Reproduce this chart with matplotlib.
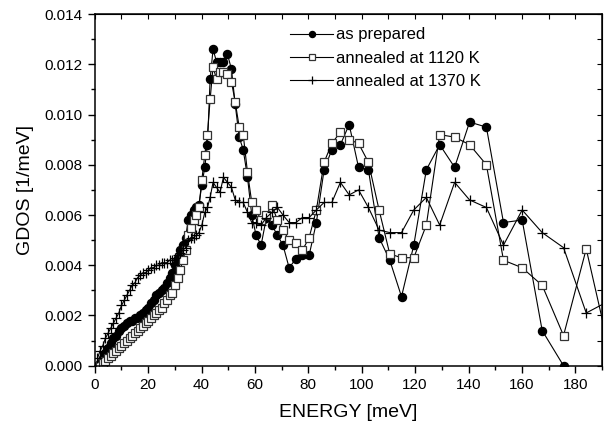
import numpy as np
import matplotlib
matplotlib.use("Agg")
import matplotlib.pyplot as plt
from matplotlib.ticker import MultipleLocator

# energy grid [meV], shared by the three spectra
energy = [1, 2, 3, 4, 5, 6, 7, 8, 9, 10, 11, 12, 13, 14, 15, 16, 17, 18, 19, 20,
          21, 22, 23, 24, 25, 26, 27, 28, 29, 30, 31, 32, 33, 34, 35, 36, 37, 38, 39,
          40.1, 41.2, 42.2, 43.2, 44.3, 45.6, 46.9, 48.2, 49.7, 51.2, 52.6, 54.1,
          55.6, 57.2, 58.8, 60.4, 62.3, 64.3, 66.3, 68.4, 70.5, 72.8, 75.3, 77.8,
          80.3, 83.0, 85.9, 88.8, 92.0, 95.3, 98.8, 102.5, 106.5, 110.5, 114.9,
          119.5, 124.2, 129.2, 134.8, 140.4, 146.7, 153.1, 160.1, 167.6, 175.6,
          184.1, 193.0]

gdos_prepared = [0.0000, 0.0001, 0.0003, 0.0005, 0.0007, 0.0009, 0.0011, 0.0012, 0.0014, 0.0015,
                 0.0016, 0.0017, 0.0018, 0.0018, 0.0019, 0.0019, 0.0020, 0.0021, 0.0022, 0.0023,
                 0.0025, 0.0026, 0.0028, 0.0029, 0.0030, 0.0031, 0.0033, 0.0035, 0.0037, 0.0040,
                 0.0043, 0.0046, 0.0048, 0.0051, 0.0058, 0.0060, 0.0062, 0.0063, 0.0064,
                 0.0072, 0.0079, 0.0088, 0.0114, 0.0126, 0.0121, 0.0121, 0.0121, 0.0124, 0.0118,
                 0.0104, 0.0091, 0.0086, 0.0075, 0.0060, 0.0052, 0.0048, 0.0059, 0.0056, 0.0052,
                 0.0048, 0.0039, 0.00425, 0.0044, 0.0044, 0.0057, 0.0078, 0.0086, 0.0088, 0.0096,
                 0.0079, 0.0078, 0.0051, 0.0042, 0.00275, 0.0048, 0.0078, 0.0088, 0.0079, 0.0097,
                 0.0095, 0.0057, 0.0058, 0.0014, 0.0000, np.nan, np.nan]

gdos_1120 = [np.nan, 0.0000, 0.0001, 0.0002, 0.0003, 0.0004, 0.0005, 0.0006, 0.0007, 0.0008,
             0.0009, 0.0010, 0.0011, 0.0012, 0.0013, 0.0014, 0.0015, 0.0016, 0.0017, 0.0018,
             0.0019, 0.0020, 0.0021, 0.0022, 0.0023, 0.0025, 0.0026, 0.0028, 0.0029, 0.0032,
             0.0035, 0.0038, 0.0042, 0.0046, 0.0052, 0.0055, 0.0058, 0.0060, 0.0063,
             0.0074, 0.0084, 0.0092, 0.0106, 0.0119, 0.0114, 0.0117, 0.0117, 0.0116, 0.0113,
             0.0105, 0.0095, 0.0092, 0.0077, 0.0065, 0.0062, 0.0058, 0.0060, 0.0064, 0.0058,
             0.0054, 0.0050, 0.0049, 0.0046, 0.0051, 0.0062, 0.0081, 0.00885, 0.0093, 0.0090,
             0.00885, 0.0081, 0.0062, 0.00445, 0.0043, 0.0043, 0.0056, 0.0092, 0.0091, 0.0088,
             0.0080, 0.0042, 0.0039, 0.0032, 0.0012, 0.00465, 0.0005]

gdos_1370 = [0.0003, 0.0006, 0.0008, 0.0011, 0.0013, 0.0015, 0.0017, 0.0019, 0.0021, 0.0024,
             0.0026, 0.0028, 0.0030, 0.0032, 0.0033, 0.0035, 0.0036, 0.0037, 0.0037, 0.0038,
             0.0039, 0.0039, 0.0040, 0.0040, 0.0041, 0.0041, 0.0041, 0.0042, 0.0042, 0.0043,
             0.0044, 0.0045, 0.0046, 0.0047, 0.0050, 0.0051, 0.0051, 0.0052, 0.0053,
             0.0056, 0.0061, 0.0063, 0.0067, 0.0073, 0.0071, 0.0069, 0.0075, 0.0073, 0.0071,
             0.0066, 0.0065, 0.0065, 0.0061, 0.0057, 0.0057, 0.0056, 0.0059, 0.0061, 0.0063,
             0.0060, 0.0057, 0.0057, 0.0059, 0.0059, 0.0062, 0.0065, 0.0065, 0.0073, 0.0068,
             0.0070, 0.0063, 0.0054, 0.0053, 0.0053, 0.0062, 0.0067, 0.0056, 0.0073, 0.0066,
             0.0063, 0.0048, 0.0062, 0.0053, 0.0047, 0.0021, 0.0026]

labels = ["as prepared", "annealed at 1120 K", "annealed at 1370 K"]


def main():
    plt.rcParams["font.family"] = ["Liberation Sans", "DejaVu Sans"]

    fig = plt.figure(figsize=(6.05, 4.26), dpi=100)
    ax = fig.add_axes([0.1567, 0.1415, 0.8383, 0.8255])

    ax.plot(energy, gdos_prepared, color="black", lw=0.8, marker="o", ms=5.8,
            mfc="black", mec="black", label=labels[0])
    ax.plot(energy, gdos_1120, color="black", lw=0.8, marker="s", ms=5.4,
            mfc="white", mec="#333333", mew=0.9, label=labels[1])
    ax.plot(energy, gdos_1370, color="black", lw=0.8, marker="+", ms=7,
            mew=0.9, label=labels[2])

    ax.set_xlim(0, 190)
    ax.set_ylim(0, 0.014)
    ax.xaxis.set_major_locator(MultipleLocator(20))
    ax.xaxis.set_minor_locator(MultipleLocator(10))
    ax.yaxis.set_major_locator(MultipleLocator(0.002))
    ax.yaxis.set_minor_locator(MultipleLocator(0.001))
    ax.yaxis.set_major_formatter(plt.FormatStrFormatter("%.3f"))

    ax.tick_params(which="both", direction="out", labelsize=11, width=1, color="black")
    ax.tick_params(which="major", length=5)
    ax.tick_params(which="minor", length=3)
    for s in ax.spines.values():
        s.set_linewidth(1.1)

    # top / right axes carry only inward ticks
    top = ax.secondary_xaxis("top")
    top.xaxis.set_major_locator(MultipleLocator(10))
    top.tick_params(direction="in", length=3.5, labeltop=False)
    right = ax.secondary_yaxis("right")
    right.yaxis.set_major_locator(MultipleLocator(0.001))
    right.tick_params(direction="in", length=3.5, labelright=False)

    ax.set_xlabel("ENERGY [meV]", fontsize=14, labelpad=9)
    ax.set_ylabel("GDOS [1/meV]", fontsize=14, labelpad=8)

    ax.legend(loc="upper left", bbox_to_anchor=(0.385, 0.962), frameon=False,
              fontsize=12, handlelength=2.6, handletextpad=0.15, labelspacing=0.5,
              borderpad=0, borderaxespad=0, markerscale=0.75)

    fig.savefig("out.png", dpi=100)


if __name__ == "__main__":
    main()
